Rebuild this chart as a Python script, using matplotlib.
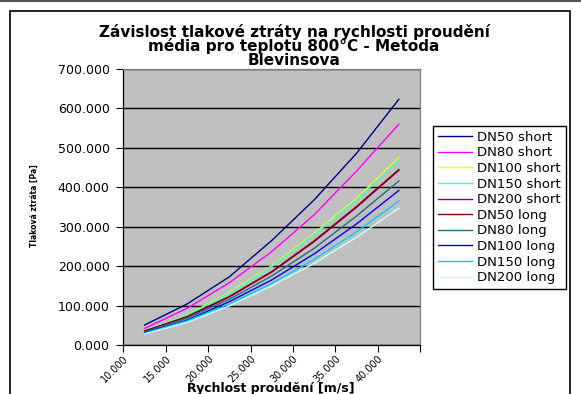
import matplotlib
matplotlib.use("Agg")
import matplotlib.pyplot as plt
from matplotlib.patches import Rectangle
from matplotlib.ticker import FuncFormatter, MultipleLocator

# velocity [m/s] and pressure loss [Pa]
velocity = [12.5, 17.5, 22.5, 27.5, 32.5, 37.5, 42.5]

dn50_short = [50.7, 104, 173, 265, 368, 486, 623]
dn80_short = [42, 93, 158, 237, 330, 441, 560]
dn100_short = [34, 76, 133, 201, 283, 372, 475]
dn150_short = [34, 75, 131, 199, 280, 368, 470]
dn200_short = [35, 71, 122, 185, 262, 349, 443]
dn50_long = [35.5, 72, 123, 186, 264, 351, 445]
dn80_long = [33, 68, 116, 175, 245, 327, 416]
dn100_long = [31, 63, 110, 165, 231, 307, 392]
dn150_long = [30, 61, 104, 156, 217, 287, 365]
dn200_long = [28, 57, 99, 150, 207, 273, 347]

series_names = ["DN50 short", "DN80 short", "DN100 short", "DN150 short", "DN200 short",
                "DN50 long", "DN80 long", "DN100 long", "DN150 long", "DN200 long"]
series_values = [dn50_short, dn80_short, dn100_short, dn150_short, dn200_short,
                 dn50_long, dn80_long, dn100_long, dn150_long, dn200_long]
# Excel 2003 default line palette
series_colors = ["#000080", "#ff00ff", "#ffff00", "#33ffdd", "#800080",
                 "#800000", "#1f6f80", "#0000ff", "#00ccff", "#ccffff"]

W, H = 581, 394
fig = plt.figure(figsize=(W / 100, H / 100), dpi=100)
fig.patch.set_facecolor("white")

# outer frame of the embedded chart object
fig.add_artist(plt.Line2D([0, 1], [1 - 1 / H, 1 - 1 / H], transform=fig.transFigure,
                          color="#555555", linewidth=1.5))
fig.add_artist(Rectangle((10 / W, -0.05), 560 / W, 1.05 - 11 / H, transform=fig.transFigure,
                         fill=False, edgecolor="black", linewidth=1.2, clip_on=False))

left, right, top, bottom = 123.5, 420, 69, 345
ax = fig.add_axes([left / W, 1 - bottom / H, (right - left) / W, (bottom - top) / H])
ax.set_facecolor("#c0c0c0")

for name, vals, col in zip(series_names, series_values, series_colors):
    ax.plot(velocity, vals, color=col, linewidth=1.0, label=name)

ax.set_xlim(10, 45)
ax.set_ylim(0, 700)
ax.xaxis.set_major_locator(MultipleLocator(5))
ax.yaxis.set_major_locator(MultipleLocator(100))
ax.xaxis.set_major_formatter(FuncFormatter(lambda v, p: "" if v > 42 else f"{v:.3f}"))
ax.yaxis.set_major_formatter(FuncFormatter(lambda v, p: f"{v:.3f}"))
ax.grid(True, axis="y", color="black", linewidth=1.0)
ax.set_axisbelow(True)

ax.tick_params(axis="y", direction="out", length=5, width=0.8, labelsize=9, pad=5)
ax.tick_params(axis="x", direction="out", length=5, width=0.8, labelsize=7, pad=1)
for lab in ax.get_xticklabels():
    lab.set_rotation(45)
    lab.set_ha("right")
    lab.set_va("top")
    lab.set_rotation_mode("anchor")

for s in ("left", "bottom"):
    ax.spines[s].set_color("black")
    ax.spines[s].set_linewidth(0.9)
for s in ("top", "right"):
    ax.spines[s].set_color("#808080")
    ax.spines[s].set_linewidth(0.9)

fig.text(294 / W, 1 - 24 / H,
         "Závislost tlakové ztráty na rychlosti proudění\nmédia pro teplotu 800°C - Metoda\nBlevinsova",
         ha="center", va="top", fontsize=11, fontweight="bold", linespacing=0.88)

fig.text(34 / W, 1 - 206 / H, "Tlaková ztráta [Pa]", rotation=90, ha="center", va="center",
         fontsize=5.5, fontweight="bold")
fig.text(271 / W, 1 - 382 / H, "Rychlost proudění [m/s]", ha="center", va="top",
         fontsize=9, fontweight="bold")

leg = fig.legend(loc="upper left", bbox_to_anchor=(433 / W, 1 - 126 / H), borderaxespad=0,
                 fontsize=9.5, frameon=True, fancybox=False, shadow=False, framealpha=1,
                 edgecolor="black", handlelength=2.6, handletextpad=0.4, labelspacing=0.2,
                 borderpad=0.35)
leg.get_frame().set_linewidth(1.0)

fig.savefig("out.png", dpi=100)
